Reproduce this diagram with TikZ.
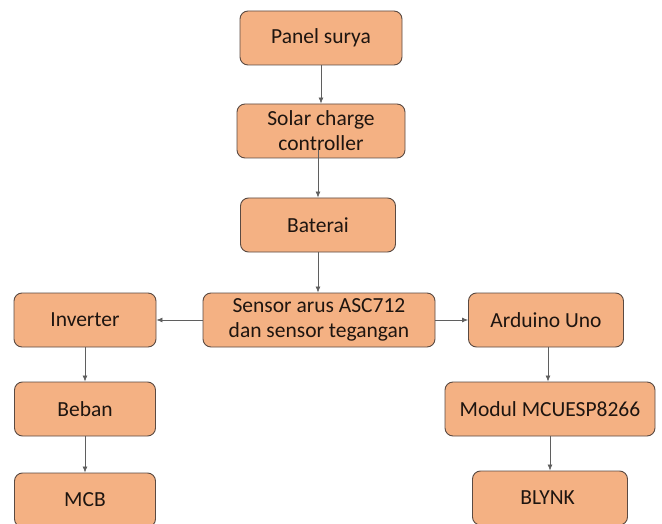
\documentclass[tikz,border=0pt]{standalone}
\usepackage{fontspec}
\setmainfont{Carlito}
\usepackage{xcolor}
\usetikzlibrary{arrows.meta}
\definecolor{BoxFill}{HTML}{F4B183}
\definecolor{BoxLine}{HTML}{5A4A42}
\definecolor{ArrowGray}{HTML}{5F5F5F}
\definecolor{TextDark}{HTML}{1E1510}
\begin{document}
\begin{tikzpicture}[x=1pt,y=-1pt,
    every node/.style={font=\fontsize{21.5}{25}\selectfont},
    blok/.style={draw=BoxLine, line width=0.9pt, fill=BoxFill, rounded corners=8pt,
      minimum height=54pt, align=center, inner sep=0pt, text=TextDark},
    panah/.style={draw=ArrowGray, line width=0.7pt, -{Latex[length=6pt,width=5pt]}}]
  \useasboundingbox (0,0) rectangle (662,524);
  % blok utama
  \foreach \name/\x/\y/\w/\txt in {
    panel/321/38/162/{Panel surya},
    scc/321/131/168/{Solar charge\\controller},
    baterai/318/225/155/{Baterai},
    sensor/319/320/232/{Sensor arus ASC712\\dan sensor tegangan},
    inverter/85/320/142/{Inverter},
    beban/85/409/141/{Beban},
    mcb/85/500/141/{MCB},
    arduino/546/320/155/{Arduino Uno},
    modul/550/409/210/{Modul MCUESP8266},
    blynk/550/498/155/{BLYNK}
    }{
    \node[blok, minimum width=\w pt] (\name) at (\x,\y) {\txt};
    }
  % panah
  \draw[panah] (panel.south) -- (scc.north);
  \draw[panah] ([xshift=-3pt,yshift=8pt]scc.south) -- (baterai.north);
  \draw[panah] (baterai.south) -- (sensor.north -| baterai.south);
  \draw[panah] (sensor.west) -- (inverter.east);
  \draw[panah] (sensor.east) -- (arduino.west);
  \draw[panah] (inverter.south) -- (beban.north);
  \draw[panah] (beban.south) -- (mcb.north);
  \draw[panah] ([xshift=2pt]arduino.south) -- ([xshift=-2pt]modul.north);
  \draw[panah] (modul.south) -- (blynk.north);
\end{tikzpicture}
\end{document}
